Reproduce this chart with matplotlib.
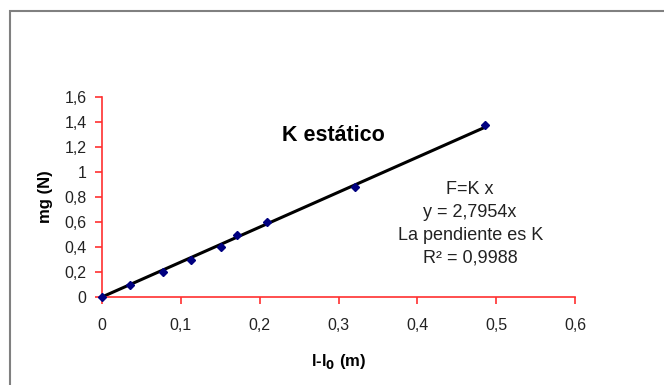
import numpy as np
import matplotlib.pyplot as plt
from matplotlib.patches import Rectangle

# Elongation (m) and weight (N)
elongation = [0, 0.0355, 0.077, 0.1125, 0.1506, 0.171, 0.2098, 0.321, 0.486]
weight = [0, 0.1, 0.2, 0.3, 0.4, 0.5, 0.6, 0.88, 1.38]
slope = 2.7954

x_ticks = [0, 0.1, 0.2, 0.3, 0.4, 0.5, 0.6]
y_ticks = [0, 0.2, 0.4, 0.6, 0.8, 1.0, 1.2, 1.4, 1.6]

plt.rcParams['font.family'] = ['Liberation Sans', 'DejaVu Sans']

fig = plt.figure(figsize=(6.64, 3.85), dpi=100)
fig.patches.append(Rectangle((10 / 664, -0.1), 1.2, 1 - 11 / 385 + 0.1,
                             transform=fig.transFigure, fill=False,
                             edgecolor='#808080', linewidth=1.5))

ax = fig.add_axes([102 / 664, 88 / 385, 473 / 664, 200 / 385])

# Trend line and data points
xfit = np.array([0, max(elongation)])
ax.plot(xfit, slope * xfit, color='black', linewidth=2.2, zorder=2)
ax.plot(elongation, weight, linestyle='none', marker='D', markersize=4.5,
        color='#000080', zorder=3, clip_on=False)

ax.set_xlim(0, 0.6)
ax.set_ylim(0, 1.6)
ax.set_xticks(x_ticks)
ax.set_yticks(y_ticks)
ax.set_xticklabels([f'{v:g}'.replace('.', ',') for v in x_ticks])
ax.set_yticklabels([f'{v:g}'.replace('.', ',') for v in y_ticks])

for side in ['top', 'right']:
    ax.spines[side].set_visible(False)
for side in ['left', 'bottom']:
    ax.spines[side].set_color('#ff3030')
    ax.spines[side].set_linewidth(1.2)
ax.tick_params(axis='both', colors='#ff3030', labelcolor='#222222',
               length=5, width=1.2, labelsize=11.5)
ax.tick_params(axis='x', pad=10)
ax.tick_params(axis='y', pad=6)

ax.set_xlabel('l-l$_\\mathbf{0}$ (m)', fontsize=12, fontweight='bold', labelpad=14)
ax.set_ylabel('mg (N)', fontsize=12, fontweight='bold', labelpad=8)

ax.text(0.293, 1.29, 'K estático', fontsize=15.5, fontweight='bold', ha='center', va='center')
ax.text(0.467, 0.585, 'F=K x\ny = 2,7954x\nLa pendiente es K\nR² = 0,9988',
        fontsize=13, ha='center', va='center', linespacing=1.45, color='#222222')

plt.savefig('out.png', dpi=100)
